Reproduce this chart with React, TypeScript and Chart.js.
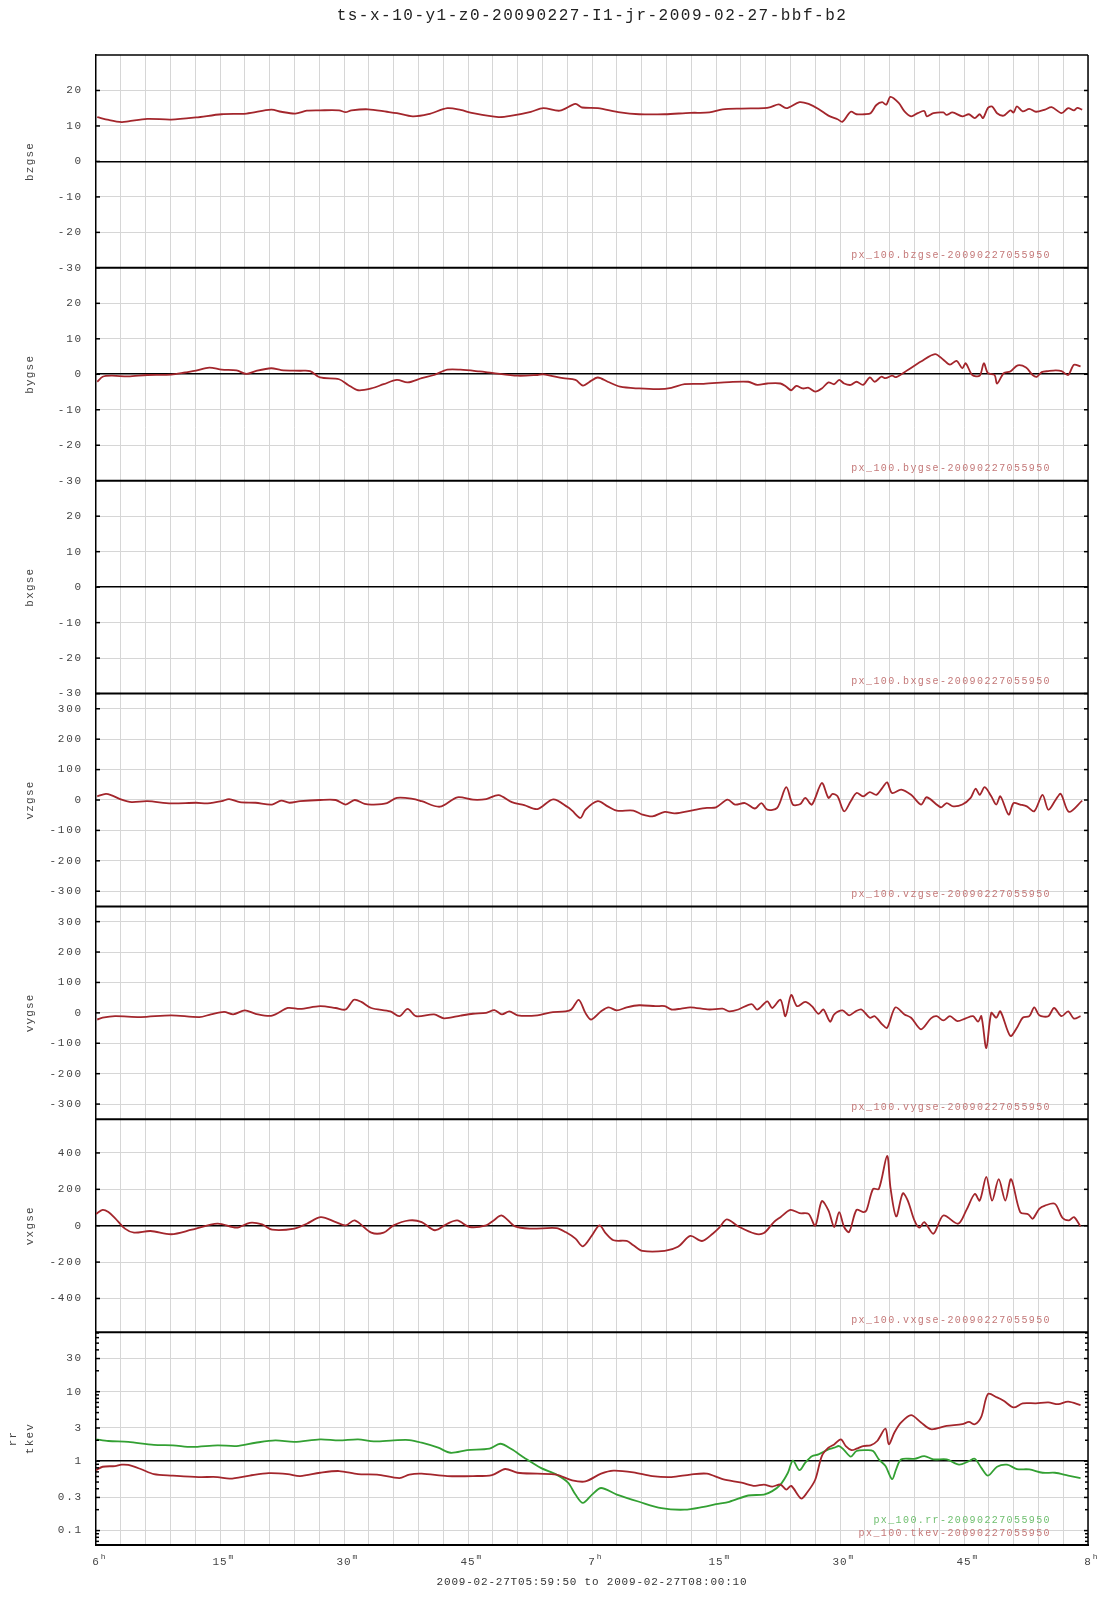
import React, { useEffect, useRef } from 'react';
import { Chart, registerables } from 'chart.js';
Chart.register(...registerables);

const TITLE = 'ts-x-10-y1-z0-20090227-I1-jr-2009-02-27-bbf-b2';
const RANGE_LABEL = '2009-02-27T05:59:50 to 2009-02-27T08:00:10';

// x axis: minutes after 06:00
const xLabelMinutes = [0, 15, 30, 45, 60, 75, 90, 105, 120];
const xLabelMain = ['6', '15', '30', '45', '7', '15', '30', '45', '8'];
const xLabelSup = ['h', 'm', 'm', 'm', 'h', 'm', 'm', 'm', 'h'];

const bzT = [0.15,1.55,3.1,3.9,6.2,9.1,12.1,15.2,18.2,21.2,22.4,24.1,25.5,27.1,29.4,30.2,30.9,32.9,35.2,36.4,38.3,40.2,42.5,44.1,45.6,48.7,50.3,52.6,54.1,56.1,58.0,58.8,60.7,63.4,65.7,68.8,71.9,74.2,75.8,78.1,80.8,81.6,82.6,83.5,85.1,86.2,87.4,88.6,89.7,90.3,91.3,92.0,93.0,93.7,94.4,95.1,95.6,96.1,97.1,97.8,98.6,99.4,100.2,100.5,101.3,102.5,102.9,103.6,104.8,105.6,106.3,106.9,107.3,107.9,108.4,109.0,109.8,110.6,111.0,111.4,112.1,112.9,113.7,114.8,115.6,116.8,117.6,118.3,118.7,119.3];
const bzV = [12.5,11.7,11.1,11.3,12.0,11.8,12.4,13.3,13.5,14.6,14.0,13.5,14.3,14.4,14.4,13.9,14.4,14.7,14.0,13.6,12.7,13.3,15.0,14.5,13.6,12.5,12.9,14.0,15.0,14.3,16.2,15.2,15.0,13.8,13.3,13.3,13.7,13.8,14.7,14.9,15.0,15.3,16.1,15.0,16.7,16.2,14.8,12.9,11.9,11.2,14.0,13.3,13.3,13.6,15.9,16.7,16.0,18.2,16.5,14.1,12.7,13.6,14.2,12.7,13.6,13.8,13.1,13.8,12.7,13.3,12.2,13.3,12.2,15.1,15.5,13.6,12.9,14.4,13.8,15.5,14.1,14.8,14.0,14.6,15.3,13.6,15.0,14.4,15.1,14.6];

const byT = [0.15,0.8,1.9,3.9,6.2,9.1,10.8,12.1,13.7,15.2,17.0,18.2,19.3,21.2,22.4,24.7,25.9,27.1,29.4,30.5,31.7,33.3,34.8,36.4,37.7,39.4,40.9,42.5,44.1,46.4,47.9,51.0,53.4,54.1,56.5,58.0,58.9,59.6,60.7,61.9,63.4,65.7,68.1,69.6,71.2,73.5,76.6,78.9,80.0,81.2,82.8,83.5,84.1,84.7,85.5,86.2,87.0,87.8,88.6,89.3,89.9,90.5,91.3,92.0,92.8,93.6,94.2,95.0,95.5,96.3,96.8,98.2,99.8,101.5,102.5,103.3,104.1,104.8,105.2,106.0,106.9,107.4,107.9,108.7,109.0,109.8,110.6,111.5,112.5,113.3,113.8,114.4,115.2,116.1,116.8,117.6,118.3,119.1];
const byV = [-2.1,-0.7,-0.4,-0.6,-0.2,-0.1,0.5,1.0,1.9,1.3,1.1,0.1,0.9,1.7,1.2,1.0,0.9,-0.9,-1.4,-3.0,-4.5,-4.0,-2.8,-1.6,-2.3,-1.1,-0.2,1.3,1.3,0.8,0.4,-0.4,-0.2,0.0,-1.1,-1.6,-3.2,-2.3,-0.9,-2.1,-3.5,-4.0,-4.2,-3.8,-2.8,-2.7,-2.2,-2.1,-3.0,-2.6,-2.6,-3.5,-4.5,-3.3,-4.0,-3.8,-4.9,-4.0,-2.3,-2.8,-1.6,-2.6,-3.0,-2.1,-3.0,-0.9,-2.1,-0.7,-1.1,-0.4,-0.8,1.2,3.6,5.7,4.1,2.7,3.8,1.7,3.1,-0.2,-0.4,3.1,0.3,-0.2,-2.6,0.3,0.8,2.5,1.9,-0.2,-0.7,0.6,0.9,1.1,0.9,-0.2,2.7,2.2];

const vzT = [0.15,1.2,1.9,3.1,4.3,6.2,9.1,12.1,13.5,15.2,16.1,17.4,19.3,21.3,22.4,23.4,24.7,27.1,29.0,30.2,31.3,32.5,33.6,35.2,36.4,38.3,39.4,41.6,43.7,45.6,47.2,48.7,50.3,51.8,53.4,55.3,57.1,57.6,58.6,59.2,60.7,61.9,63.0,65.0,66.1,67.3,68.8,70.0,72.3,73.9,75.0,76.4,77.3,78.5,79.7,80.5,81.2,82.4,83.5,84.3,85.2,85.8,86.6,87.8,88.6,89.1,89.7,90.5,91.3,92.0,92.8,93.6,94.4,95.1,95.7,96.3,97.4,98.6,99.8,100.5,102.2,102.9,103.7,104.8,105.8,106.4,106.9,107.5,108.3,108.9,109.4,110.4,111.0,111.8,112.6,113.5,114.5,115.2,116.1,116.7,117.7,119.3];
const vzV = [12,20,15,1,-7,-4,-11,-9,-11,-4,3,-7,-9,-15,-2,-9,-4,0,0,-15,0,-13,-15,-10,7,4,-4,-22,9,1,3,16,-7,-17,-30,2,-24,-35,-59,-32,-4,-21,-35,-35,-48,-54,-39,-44,-33,-26,-24,1,-15,-10,-28,-10,-32,-26,42,-15,-13,7,-15,56,7,20,12,-37,-4,23,12,26,17,39,58,23,34,17,-15,9,-24,-10,-21,-15,7,37,17,42,12,-15,12,-48,-10,-15,-21,-37,17,-32,1,20,-39,-2];

const vyT = [0.15,0.8,2.3,5.4,9.1,12.5,13.9,15.5,16.6,18.0,19.3,21.3,23.2,24.7,27.1,29.0,30.2,31.2,32.1,33.3,35.6,36.7,37.7,38.7,40.9,42.1,44.1,45.6,47.2,48.2,49.1,50.0,51.0,53.4,54.9,56.8,57.5,58.4,59.2,59.9,61.1,62.0,63.0,64.2,65.7,67.7,68.8,69.6,70.8,71.9,74.2,75.8,76.6,77.7,79.3,80.0,81.2,81.8,82.8,83.4,84.1,84.8,85.8,86.6,87.4,88.0,88.8,89.3,90.3,91.1,91.9,92.6,93.6,94.2,95.1,95.7,96.7,97.8,98.6,99.8,101.0,101.7,102.5,103.3,104.2,105.2,106.1,106.7,107.1,107.7,108.3,108.9,109.4,110.6,111.4,112.1,112.9,113.5,114.1,115.2,115.9,116.8,117.6,118.3,119.1];
const vyV = [-22,-16,-11,-14,-8,-14,-5,3,-5,8,-3,-9,16,13,22,16,11,43,36,16,5,-11,13,-11,-5,-18,-9,-3,0,9,-5,5,-8,-8,1,5,11,43,0,-22,5,18,8,18,25,22,22,11,14,18,11,14,5,11,29,11,38,16,43,-11,59,22,36,22,-3,11,-29,-5,8,-8,5,11,-16,-11,-38,-49,18,-5,-16,-54,-18,-11,-25,-11,-27,-18,-11,-29,-11,-116,0,-16,5,-76,-49,-16,-11,18,-8,-11,16,-11,5,-19,-11];

const vxT = [0,0.8,1.5,2.3,3.5,4.6,6.6,9.1,11.6,14.7,17.0,18.6,20.1,21.3,24.0,25.5,27.2,29.0,30.2,31.3,33.3,34.8,36.0,37.9,39.4,41.0,42.5,43.7,45.2,47.2,48.1,49.1,50.7,52.6,55.7,56.8,58.0,58.9,60.0,60.9,61.7,62.6,64.2,65.0,66.1,68.8,70.4,71.9,73.3,74.6,75.4,76.3,77.7,79.7,80.8,82.0,82.8,84.0,85.1,86.2,87.0,87.8,88.6,89.3,89.9,90.5,91.1,92.0,92.8,93.2,94.0,94.7,95.7,96.1,96.8,97.6,98.2,99.0,99.6,100.2,101.3,102.5,104.3,105.3,106.3,106.9,107.7,108.4,109.2,110.0,110.7,111.8,112.8,113.3,114.1,114.8,116.0,116.9,117.7,118.3,119.1];
const vxV = [65,87,75,42,-16,-38,-29,-47,-22,11,-11,16,7,-22,-16,11,47,20,2,29,-38,-38,2,29,20,-25,11,29,-7,2,29,56,-4,-16,-13,-35,-71,-113,-53,2,-44,-80,-84,-107,-138,-138,-116,-56,-84,-44,-11,35,-4,-44,-40,20,47,87,69,65,0,135,84,-7,75,-7,-35,87,75,84,202,202,384,211,51,178,138,29,-11,20,-44,56,11,87,175,138,269,138,256,138,256,75,62,38,93,111,120,44,29,47,-4];

const rrT = [0,1.5,3.9,7.0,9.3,11.6,14.7,17.0,19.3,21.7,24.0,27.1,29.4,31.7,33.6,36.0,37.9,39.4,41.4,42.9,44.9,47.6,48.9,50.3,51.8,53.8,55.7,57.1,58.0,58.9,60.0,61.1,63.0,65.7,68.4,71.2,73.5,75.0,76.6,78.9,80.8,81.8,82.8,83.7,84.3,85.1,85.8,86.6,87.4,88.6,89.3,89.9,90.5,91.3,92.0,93.2,94.0,94.7,95.5,96.3,96.8,97.4,99.0,100.2,101.3,102.9,104.4,105.6,106.3,107.1,107.9,109.0,110.2,111.4,112.9,114.5,116.0,117.6,119.1];
const rrV = [2.06,1.95,1.89,1.71,1.69,1.6,1.69,1.65,1.84,1.99,1.89,2.06,1.99,2.06,1.93,1.99,2.01,1.84,1.56,1.32,1.44,1.51,1.78,1.48,1.12,0.80,0.64,0.49,0.33,0.25,0.33,0.41,0.33,0.26,0.21,0.20,0.22,0.24,0.26,0.32,0.33,0.37,0.46,0.68,1.02,0.74,0.95,1.18,1.25,1.48,1.56,1.65,1.44,1.16,1.40,1.44,1.40,1.06,0.85,0.55,0.77,1.06,1.08,1.18,1.06,1.06,0.89,1.0,1.08,0.80,0.62,0.83,0.89,0.77,0.76,0.68,0.68,0.62,0.57];

const tkevT = [0,0.8,2.3,3.1,3.9,5.4,7.0,9.3,12.4,14.7,16.2,18.6,20.9,23.2,24.7,27.1,29.4,31.7,34.0,36.7,37.9,39.4,42.5,45.6,47.9,49.5,51.0,53.4,55.7,57.6,59.2,61.1,62.6,65.0,67.3,69.6,71.9,73.9,75.8,78.1,79.7,80.8,81.8,82.8,83.5,84.1,85.3,86.0,87.0,87.8,88.6,89.3,90.1,90.7,91.4,92.0,92.8,93.7,94.5,95.5,95.9,96.6,97.4,98.6,99.8,101.0,102.9,104.8,105.6,106.3,107.1,107.9,109.0,109.8,111.0,112.1,113.7,115.2,116.4,117.6,119.1];
const tkevV = [0.74,0.83,0.85,0.89,0.88,0.77,0.65,0.62,0.59,0.59,0.56,0.62,0.67,0.65,0.61,0.68,0.72,0.65,0.64,0.57,0.64,0.66,0.61,0.61,0.63,0.77,0.68,0.66,0.64,0.53,0.51,0.66,0.73,0.69,0.61,0.59,0.64,0.66,0.55,0.49,0.44,0.46,0.43,0.46,0.39,0.44,0.29,0.35,0.54,1.18,1.56,1.74,2.06,1.65,1.44,1.51,1.65,1.69,1.95,2.94,1.75,2.6,3.6,4.59,3.6,2.88,3.21,3.4,3.67,3.4,4.39,9.25,8.27,7.4,5.93,6.8,6.8,7.0,6.6,7.2,6.4];

const linTicks = [-30, -20, -10, 0, 10, 20];
const velTicks = [-300, -200, -100, 0, 100, 200, 300];
const vxTicks = [-400, -200, 0, 200, 400];
const logTicks = [0.1, 0.3, 1, 3, 10, 30];

const RED = '#a3262c';
const GREEN = '#33a033';
const RED_TXT = '#c47878';
const GREEN_TXT = '#6fbf6f';
const MONO = '"Liberation Mono", "DejaVu Sans Mono", monospace';

const panels = [
  { id: 'yBz', type: 'linear', min: -30, max: 30, ticks: linTicks, base: 0, zero: true, titles: ['bzgse'], notes: [['px_100.bzgse-20090227055950', RED_TXT]] },
  { id: 'yBy', type: 'linear', min: -30, max: 30, ticks: linTicks, base: 0, zero: true, titles: ['bygse'], notes: [['px_100.bygse-20090227055950', RED_TXT]] },
  { id: 'yBx', type: 'linear', min: -30, max: 30, ticks: linTicks, base: 0, zero: true, titles: ['bxgse'], notes: [['px_100.bxgse-20090227055950', RED_TXT]] },
  { id: 'yVz', type: 'linear', min: -350, max: 350, ticks: velTicks, base: 0, zero: false, titles: ['vzgse'], notes: [['px_100.vzgse-20090227055950', RED_TXT]] },
  { id: 'yVy', type: 'linear', min: -350, max: 350, ticks: velTicks, base: 0, zero: false, titles: ['vygse'], notes: [['px_100.vygse-20090227055950', RED_TXT]] },
  { id: 'yVx', type: 'linear', min: -585, max: 585, ticks: vxTicks, base: 0, zero: true, titles: ['vxgse'], notes: [['px_100.vxgse-20090227055950', RED_TXT]] },
  { id: 'yLog', type: 'logarithmic', min: 0.062, max: 72, ticks: logTicks, base: 1, zero: true, titles: ['rr', 'tkev'], notes: [['px_100.rr-20090227055950', GREEN_TXT], ['px_100.tkev-20090227055950', RED_TXT]] },
];

const pts = (t: number[], v: number[]) => t.map((x, i) => ({ x, y: v[i] })).filter(p => p.y !== undefined);

const series = [
  { label: 'bzgse', t: bzT, v: bzV, axis: 'yBz', color: RED },
  { label: 'bygse', t: byT, v: byV, axis: 'yBy', color: RED },
  { label: 'vzgse', t: vzT, v: vzV, axis: 'yVz', color: RED },
  { label: 'vygse', t: vyT, v: vyV, axis: 'yVy', color: RED },
  { label: 'vxgse', t: vxT, v: vxV, axis: 'yVx', color: RED },
  { label: 'tkev', t: tkevT, v: tkevV, axis: 'yLog', color: RED },
  { label: 'rr', t: rrT, v: rrV, axis: 'yLog', color: GREEN },
];

function txt(ctx: CanvasRenderingContext2D, s: string, x: number, y: number, font: string, color: string, align: CanvasTextAlign, spacing: number) {
  ctx.save();
  ctx.font = font;
  (ctx as any).letterSpacing = spacing + 'px';
  ctx.fillStyle = color;
  ctx.textAlign = align;
  ctx.textBaseline = 'middle';
  ctx.fillText(s, x, y);
  ctx.restore();
}

function seg(ctx: CanvasRenderingContext2D, x1: number, y1: number, x2: number, y2: number, w: number) {
  ctx.save();
  ctx.strokeStyle = '#000';
  ctx.lineWidth = w;
  ctx.beginPath();
  ctx.moveTo(x1, y1);
  ctx.lineTo(x2, y2);
  ctx.stroke();
  ctx.restore();
}

const overlay = {
  id: 'overlay',
  beforeDraw(chart: any) {
    chart.ctx.letterSpacing = '1.8px';
  },
  afterDraw(chart: any) {
    const ctx: CanvasRenderingContext2D = chart.ctx;
    const a = chart.chartArea;
    const xs = chart.scales.x;
    seg(ctx, a.left, a.top, a.right, a.top, 1.5);
    seg(ctx, a.right, a.top, a.right, a.bottom, 1.5);
    panels.forEach((p, i) => {
      const s = chart.scales[p.id];
      if (i < panels.length - 1) seg(ctx, a.left, s.bottom, a.right, s.bottom, 2);
      p.ticks.forEach((v) => {
        const y = s.getPixelForValue(v);
        seg(ctx, a.left, y, a.left + 4, y, 1.5);
        seg(ctx, a.right - 4, y, a.right, y, 1.5);
      });
      if (p.type === 'logarithmic') {
        [0.07, 0.08, 0.09, 0.2, 0.4, 0.5, 0.6, 0.7, 0.8, 0.9, 2, 4, 5, 6, 7, 8, 9, 20, 40, 50, 60, 70].forEach((v) => {
          const y = s.getPixelForValue(v);
          seg(ctx, a.left, y, a.left + 3, y, 1.5);
          seg(ctx, a.right - 3, y, a.right, y, 1.5);
        });
      }
      const cy = (s.top + s.bottom) / 2;
      const xs0 = p.titles.length === 1 ? [30] : [13, 30];
      p.titles.forEach((t, k) => {
        ctx.save();
        ctx.translate(xs0[k], cy);
        ctx.rotate(-Math.PI / 2);
        txt(ctx, t, 0, 0, '11px ' + MONO, '#444', 'center', 1.2);
        ctx.restore();
      });
      const n = p.notes.length;
      p.notes.forEach((nt, k) => {
        const y = n === 1 ? s.bottom - 12 : s.bottom - 25 + k * 13;
        txt(ctx, nt[0], 1051, y, '10px ' + MONO, nt[1], 'right', 1.4);
      });
    });
    xLabelMinutes.forEach((m, i) => {
      const x = xs.getPixelForValue(m);
      const y = a.bottom + 17;
      ctx.save();
      ctx.font = '11px ' + MONO;
      (ctx as any).letterSpacing = '1px';
      const w = ctx.measureText(xLabelMain[i]).width;
      ctx.restore();
      txt(ctx, xLabelMain[i], x, y, '11px ' + MONO, '#444', 'center', 1);
      txt(ctx, xLabelSup[i], x + w / 2 + 1, y - 5, '8px ' + MONO, '#444', 'left', 0.5);
    });
    txt(ctx, RANGE_LABEL, (a.left + a.right) / 2, 1582, '11px ' + MONO, '#333', 'center', 0.8);
    txt(ctx, TITLE, (a.left + a.right) / 2, 16, '16px ' + MONO, '#222', 'center', 1.5);
  },
};

export default function App() {
  const ref = useRef<HTMLCanvasElement>(null);
  useEffect(() => {
    if (!ref.current) return;
    const scales: any = {
      x: {
        type: 'linear',
        min: 0,
        max: 120,
        afterBuildTicks: (s: any) => {
          const t = [];
          for (let m = 0; m <= 120; m += 3) t.push({ value: m });
          s.ticks = t;
        },
        afterFit: (s: any) => { s.height = 55; },
        ticks: { display: false },
        grid: { color: '#d6d6d6', lineWidth: 1, drawTicks: false },
        border: { color: '#000', width: 2 },
      },
    };
    panels.forEach((p, i) => {
      scales[p.id] = {
        type: p.type,
        position: 'left',
        stack: 'panels',
        stackWeight: 1,
        weight: panels.length - i,
        min: p.min,
        max: p.max,
        afterBuildTicks: (s: any) => { s.ticks = p.ticks.map((v) => ({ value: v })); },
        afterFit: (s: any) => { s.width = 96; },
        ticks: {
          padding: 13,
          color: '#444',
          font: { family: MONO, size: 11 },
          callback: (v: any) => String(v),
        },
        grid: {
          drawTicks: false,
          color: (c: any) => (p.zero && c.tick && c.tick.value === p.base ? '#000' : '#d6d6d6'),
          lineWidth: (c: any) => (p.zero && c.tick && c.tick.value === p.base ? 1.6 : 1),
        },
        border: { color: '#000', width: 1.5 },
      };
    });
    const chart = new Chart(ref.current, {
      type: 'line',
      data: {
        datasets: series.map((s) => ({
          label: s.label,
          data: pts(s.t, s.v),
          yAxisID: s.axis,
          borderColor: s.color,
          backgroundColor: s.color,
          borderWidth: 1.8,
          pointRadius: 0,
          tension: 0.3,
          fill: false,
        })),
      },
      options: {
        animation: false,
        responsive: false,
        devicePixelRatio: 1,
        parsing: true,
        layout: { padding: { top: 55, right: 19, bottom: 0, left: 0 } },
        plugins: { legend: { display: false }, tooltip: { enabled: false }, title: { display: false } },
        scales,
      } as any,
      plugins: [overlay],
    });
    return () => chart.destroy();
  }, []);
  return (
    <div style={{ position: 'absolute', left: 0, top: 0, width: 1107, height: 1600, background: '#fff' }}>
      <canvas ref={ref} width={1107} height={1600} style={{ display: 'block' }} />
    </div>
  );
}
